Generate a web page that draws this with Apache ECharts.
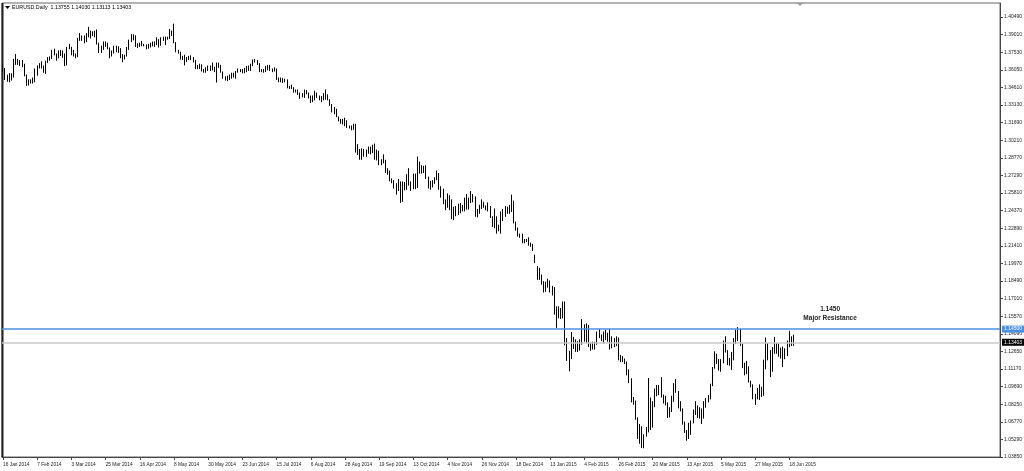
<!DOCTYPE html>
<html><head><meta charset="utf-8">
<script src="https://cdn.jsdelivr.net/npm/echarts@6/dist/echarts.min.js"></script>
<style>html,body{margin:0;padding:0;background:#fff}#c{width:1024px;height:471px}</style>
</head><body><div id="c"></div>
<script>
// Daily bars, each row [open, high, low, close]
const jan2014=[[1.3600,1.3650,1.3590,1.3620],[1.3620,1.3625,1.3525,1.3540],[1.3530,1.3568,1.3510,1.3548],[1.3548,1.3582,1.3506,1.3560],[1.3560,1.3580,1.3520,1.3562],[1.3562,1.3700,1.3545,1.3690],[1.3690,1.3740,1.3650,1.3678],[1.3678,1.3700,1.3650,1.3675],[1.3675,1.3690,1.3640,1.3668],[1.3668,1.3690,1.3630,1.3655],[1.3655,1.3660,1.3555,1.3560],[1.3560,1.3570,1.3475,1.3485]];
const feb2014=[[1.3485,1.3530,1.3478,1.3523],[1.3523,1.3530,1.3495,1.3515],[1.3515,1.3545,1.3495,1.3535],[1.3535,1.3620,1.3505,1.3590],[1.3590,1.3645,1.3560,1.3635],[1.3635,1.3665,1.3620,1.3640],[1.3640,1.3680,1.3620,1.3640],[1.3640,1.3645,1.3585,1.3595],[1.3595,1.3685,1.3575,1.3675],[1.3675,1.3715,1.3665,1.3695],[1.3695,1.3720,1.3685,1.3710],[1.3710,1.3775,1.3700,1.3770],[1.3770,1.3785,1.3730,1.3735],[1.3735,1.3745,1.3685,1.3715],[1.3715,1.3770,1.3705,1.3740],[1.3740,1.3775,1.3725,1.3735],[1.3735,1.3770,1.3710,1.3740],[1.3740,1.3745,1.3640,1.3680],[1.3680,1.3800,1.3645,1.3795],[1.3795,1.3825,1.3780,1.3805]];
const mar2014=[[1.3760,1.3800,1.3730,1.3740],[1.3740,1.3775,1.3720,1.3740],[1.3740,1.3745,1.3705,1.3730],[1.3730,1.3875,1.3715,1.3865],[1.3865,1.3915,1.3850,1.3875],[1.3875,1.3895,1.3850,1.3880],[1.3880,1.3895,1.3830,1.3865],[1.3865,1.3915,1.3840,1.3900],[1.3900,1.3967,1.3880,1.3905],[1.3905,1.3935,1.3870,1.3915],[1.3915,1.3930,1.3890,1.3925],[1.3925,1.3935,1.3880,1.3930],[1.3930,1.3945,1.3820,1.3825],[1.3825,1.3835,1.3750,1.3775],[1.3775,1.3810,1.3750,1.3790],[1.3790,1.3845,1.3775,1.3835],[1.3835,1.3845,1.3800,1.3825],[1.3825,1.3835,1.3780,1.3790],[1.3790,1.3795,1.3705,1.3735],[1.3735,1.3770,1.3720,1.3750],[1.3750,1.3810,1.3745,1.3770]];
const apr2014=[[1.3770,1.3810,1.3755,1.3795],[1.3795,1.3805,1.3750,1.3765],[1.3765,1.3790,1.3705,1.3720],[1.3720,1.3740,1.3672,1.3705],[1.3705,1.3735,1.3695,1.3730],[1.3730,1.3800,1.3720,1.3790],[1.3790,1.3860,1.3775,1.3855],[1.3855,1.3906,1.3840,1.3890],[1.3890,1.3905,1.3855,1.3885],[1.3885,1.3895,1.3800,1.3815],[1.3815,1.3830,1.3790,1.3815],[1.3815,1.3835,1.3800,1.3815],[1.3815,1.3850,1.3805,1.3815],[1.3815,1.3825,1.3805,1.3810],[1.3810,1.3820,1.3780,1.3795],[1.3795,1.3825,1.3785,1.3815],[1.3815,1.3835,1.3795,1.3820],[1.3820,1.3845,1.3805,1.3830],[1.3830,1.3845,1.3800,1.3830],[1.3830,1.3880,1.3815,1.3860],[1.3860,1.3865,1.3795,1.3815],[1.3815,1.3880,1.3810,1.3870]];
const may2014=[[1.3870,1.3885,1.3850,1.3870],[1.3870,1.3885,1.3815,1.3870],[1.3870,1.3885,1.3860,1.3875],[1.3875,1.3950,1.3865,1.3925],[1.3925,1.3935,1.3890,1.3910],[1.3910,1.3993,1.3830,1.3835],[1.3835,1.3840,1.3755,1.3760],[1.3760,1.3775,1.3745,1.3755],[1.3755,1.3760,1.3695,1.3705],[1.3705,1.3725,1.3690,1.3710],[1.3710,1.3735,1.3646,1.3710],[1.3710,1.3715,1.3675,1.3695],[1.3695,1.3725,1.3690,1.3715],[1.3715,1.3730,1.3690,1.3700],[1.3700,1.3715,1.3670,1.3680],[1.3680,1.3690,1.3615,1.3625],[1.3625,1.3650,1.3615,1.3630],[1.3630,1.3660,1.3615,1.3630],[1.3630,1.3655,1.3595,1.3598],[1.3598,1.3615,1.3585,1.3590],[1.3590,1.3630,1.3585,1.3625],[1.3625,1.3645,1.3600,1.3635]];
const jun2014=[[1.3635,1.3645,1.3600,1.3630],[1.3630,1.3670,1.3605,1.3625],[1.3625,1.3635,1.3590,1.3595],[1.3595,1.3670,1.3503,1.3660],[1.3660,1.3670,1.3625,1.3640],[1.3640,1.3650,1.3585,1.3590],[1.3590,1.3595,1.3535,1.3545],[1.3545,1.3555,1.3520,1.3525],[1.3525,1.3560,1.3515,1.3545],[1.3545,1.3570,1.3525,1.3540],[1.3540,1.3585,1.3535,1.3570],[1.3570,1.3585,1.3545,1.3565],[1.3565,1.3600,1.3535,1.3595],[1.3595,1.3620,1.3585,1.3610],[1.3610,1.3615,1.3590,1.3605],[1.3605,1.3615,1.3580,1.3600],[1.3600,1.3625,1.3580,1.3610],[1.3610,1.3640,1.3590,1.3630],[1.3630,1.3645,1.3600,1.3615],[1.3615,1.3660,1.3600,1.3645],[1.3645,1.3695,1.3640,1.3690]];
const jul2014=[[1.3690,1.3700,1.3670,1.3675],[1.3675,1.3690,1.3650,1.3655],[1.3655,1.3665,1.3590,1.3605],[1.3605,1.3615,1.3590,1.3592],[1.3592,1.3615,1.3585,1.3605],[1.3605,1.3640,1.3590,1.3615],[1.3615,1.3650,1.3605,1.3640],[1.3640,1.3650,1.3600,1.3610],[1.3610,1.3620,1.3590,1.3605],[1.3605,1.3630,1.3595,1.3610],[1.3610,1.3620,1.3525,1.3530],[1.3530,1.3545,1.3505,1.3525],[1.3525,1.3545,1.3505,1.3520],[1.3520,1.3540,1.3500,1.3525],[1.3525,1.3535,1.3505,1.3520],[1.3520,1.3530,1.3455,1.3460],[1.3460,1.3475,1.3450,1.3465],[1.3465,1.3485,1.3450,1.3460],[1.3460,1.3465,1.3420,1.3430],[1.3430,1.3445,1.3420,1.3440],[1.3440,1.3445,1.3400,1.3410],[1.3410,1.3420,1.3367,1.3395],[1.3395,1.3415,1.3380,1.3390]];
const aug2014=[[1.3390,1.3445,1.3375,1.3430],[1.3430,1.3440,1.3405,1.3410],[1.3410,1.3420,1.3370,1.3380],[1.3380,1.3395,1.3333,1.3365],[1.3365,1.3395,1.3340,1.3360],[1.3360,1.3435,1.3355,1.3410],[1.3410,1.3420,1.3375,1.3380],[1.3380,1.3395,1.3355,1.3365],[1.3365,1.3390,1.3340,1.3362],[1.3362,1.3415,1.3355,1.3405],[1.3405,1.3445,1.3360,1.3400],[1.3400,1.3405,1.3355,1.3360],[1.3360,1.3365,1.3310,1.3320],[1.3320,1.3325,1.3255,1.3260],[1.3260,1.3300,1.3240,1.3280],[1.3280,1.3285,1.3215,1.3240],[1.3205,1.3220,1.3180,1.3190],[1.3190,1.3200,1.3160,1.3165],[1.3165,1.3200,1.3155,1.3190],[1.3190,1.3210,1.3140,1.3180],[1.3180,1.3190,1.3125,1.3130]];
const sep2014=[[1.3130,1.3145,1.3120,1.3132],[1.3132,1.3145,1.3105,1.3130],[1.3130,1.3160,1.3110,1.3150],[1.3150,1.3160,1.2920,1.2945],[1.2945,1.2990,1.2900,1.2950],[1.2925,1.2950,1.2860,1.2895],[1.2895,1.2955,1.2860,1.2945],[1.2945,1.2950,1.2885,1.2920],[1.2920,1.2945,1.2885,1.2922],[1.2922,1.2970,1.2910,1.2965],[1.2965,1.2970,1.2905,1.2945],[1.2945,1.2985,1.2915,1.2960],[1.2960,1.2995,1.2860,1.2865],[1.2865,1.2945,1.2855,1.2920],[1.2920,1.2935,1.2815,1.2830],[1.2830,1.2865,1.2815,1.2850],[1.2850,1.2905,1.2830,1.2852],[1.2852,1.2860,1.2750,1.2760],[1.2760,1.2790,1.2735,1.2745],[1.2745,1.2770,1.2680,1.2685],[1.2685,1.2705,1.2665,1.2687],[1.2687,1.2690,1.2620,1.2630]];
const oct2014=[[1.2630,1.2665,1.2570,1.2620],[1.2620,1.2700,1.2600,1.2670],[1.2670,1.2680,1.2501,1.2515],[1.2515,1.2680,1.2510,1.2665],[1.2665,1.2675,1.2605,1.2635],[1.2635,1.2740,1.2610,1.2730],[1.2730,1.2790,1.2645,1.2650],[1.2650,1.2680,1.2600,1.2625],[1.2625,1.2745,1.2615,1.2735],[1.2735,1.2745,1.2615,1.2650],[1.2650,1.2887,1.2625,1.2830],[1.2830,1.2845,1.2745,1.2810],[1.2810,1.2815,1.2745,1.2760],[1.2760,1.2810,1.2750,1.2800],[1.2800,1.2815,1.2700,1.2715],[1.2715,1.2720,1.2620,1.2640],[1.2640,1.2685,1.2610,1.2650],[1.2650,1.2690,1.2630,1.2670],[1.2670,1.2715,1.2660,1.2700],[1.2700,1.2770,1.2690,1.2735],[1.2735,1.2750,1.2610,1.2630],[1.2630,1.2640,1.2545,1.2610],[1.2610,1.2620,1.2490,1.2525]];
const nov2014=[[1.2525,1.2530,1.2440,1.2480],[1.2480,1.2580,1.2460,1.2545],[1.2545,1.2565,1.2440,1.2490],[1.2490,1.2530,1.2365,1.2375],[1.2375,1.2470,1.2357,1.2450],[1.2450,1.2475,1.2390,1.2410],[1.2410,1.2495,1.2400,1.2480],[1.2480,1.2500,1.2415,1.2435],[1.2435,1.2485,1.2430,1.2475],[1.2475,1.2545,1.2430,1.2525],[1.2525,1.2575,1.2445,1.2455],[1.2455,1.2545,1.2445,1.2530],[1.2530,1.2600,1.2500,1.2545],[1.2545,1.2575,1.2505,1.2540],[1.2540,1.2555,1.2385,1.2390],[1.2390,1.2450,1.2380,1.2440],[1.2440,1.2485,1.2410,1.2470],[1.2470,1.2530,1.2450,1.2505],[1.2505,1.2510,1.2460,1.2470],[1.2470,1.2480,1.2440,1.2450]];
const dec2014=[[1.2450,1.2505,1.2430,1.2470],[1.2470,1.2475,1.2375,1.2385],[1.2385,1.2390,1.2300,1.2310],[1.2310,1.2455,1.2290,1.2375],[1.2375,1.2390,1.2245,1.2290],[1.2290,1.2320,1.2265,1.2310],[1.2310,1.2430,1.2245,1.2380],[1.2380,1.2450,1.2350,1.2440],[1.2440,1.2475,1.2385,1.2460],[1.2460,1.2470,1.2410,1.2465],[1.2465,1.2485,1.2410,1.2440],[1.2440,1.2570,1.2425,1.2500],[1.2500,1.2520,1.2330,1.2335],[1.2335,1.2345,1.2270,1.2290],[1.2290,1.2295,1.2220,1.2225],[1.2225,1.2245,1.2210,1.2230],[1.2230,1.2245,1.2165,1.2170],[1.2170,1.2200,1.2165,1.2185],[1.2185,1.2200,1.2175,1.2190],[1.2190,1.2215,1.2145,1.2150],[1.2150,1.2170,1.2135,1.2155],[1.2155,1.2160,1.2100,1.2100]];
const jan2015=[[1.2060,1.2070,1.2000,1.2005],[1.1950,1.1975,1.1860,1.1935],[1.1935,1.1960,1.1860,1.1890],[1.1890,1.1905,1.1820,1.1840],[1.1840,1.1850,1.1755,1.1790],[1.1790,1.1845,1.1760,1.1840],[1.1840,1.1870,1.1795,1.1835],[1.1835,1.1855,1.1755,1.1775],[1.1775,1.1810,1.1730,1.1790],[1.1790,1.1800,1.1570,1.1630],[1.1630,1.1640,1.1460,1.1565],[1.1565,1.1640,1.1540,1.1610],[1.1610,1.1625,1.1535,1.1555],[1.1555,1.1680,1.1540,1.1610],[1.1610,1.1680,1.1315,1.1365],[1.1365,1.1375,1.1185,1.1205],[1.1160,1.1270,1.1098,1.1245],[1.1245,1.1425,1.1200,1.1380],[1.1380,1.1385,1.1285,1.1290],[1.1290,1.1365,1.1260,1.1320],[1.1320,1.1350,1.1260,1.1290]];
const feb2015=[[1.1290,1.1365,1.1270,1.1345],[1.1345,1.1534,1.1320,1.1480],[1.1480,1.1490,1.1345,1.1345],[1.1345,1.1498,1.1335,1.1475],[1.1475,1.1485,1.1300,1.1315],[1.1310,1.1340,1.1270,1.1320],[1.1320,1.1345,1.1280,1.1322],[1.1322,1.1345,1.1280,1.1335],[1.1335,1.1430,1.1320,1.1400],[1.1400,1.1450,1.1375,1.1390],[1.1390,1.1405,1.1350,1.1395],[1.1395,1.1430,1.1330,1.1410],[1.1410,1.1445,1.1360,1.1405],[1.1405,1.1420,1.1345,1.1375],[1.1375,1.1450,1.1280,1.1380],[1.1380,1.1390,1.1290,1.1330],[1.1330,1.1375,1.1300,1.1332],[1.1332,1.1390,1.1310,1.1370],[1.1370,1.1380,1.1190,1.1195],[1.1195,1.1235,1.1175,1.1197]];
const mar2015=[[1.1190,1.1225,1.1175,1.1180],[1.1180,1.1205,1.1160,1.1175],[1.1175,1.1180,1.1065,1.1075],[1.1075,1.1115,1.1000,1.1030],[1.1030,1.1040,1.0840,1.0840],[1.0840,1.0885,1.0820,1.0850],[1.0850,1.0855,1.0695,1.0700],[1.0700,1.0715,1.0535,1.0550],[1.0550,1.0660,1.0495,1.0630],[1.0630,1.0640,1.0460,1.0495],[1.0495,1.0575,1.0458,1.0565],[1.0565,1.0635,1.0555,1.0595],[1.0595,1.1043,1.0590,1.0870],[1.0870,1.0880,1.0610,1.0650],[1.0650,1.0850,1.0630,1.0820],[1.0820,1.0955,1.0800,1.0940],[1.0940,1.0985,1.0890,1.0930],[1.0930,1.0985,1.0900,1.0965],[1.0965,1.1050,1.0880,1.0890],[1.0890,1.0905,1.0830,1.0892],[1.0892,1.0895,1.0815,1.0830],[1.0830,1.0840,1.0710,1.0730]];
const apr2015=[[1.0730,1.0800,1.0715,1.0765],[1.0765,1.0895,1.0760,1.0885],[1.0885,1.1000,1.0845,1.0970],[1.0970,1.1035,1.0920,1.0925],[1.0925,1.0935,1.0790,1.0805],[1.0805,1.0850,1.0765,1.0780],[1.0780,1.0790,1.0655,1.0660],[1.0660,1.0680,1.0585,1.0600],[1.0600,1.0610,1.0521,1.0570],[1.0570,1.0670,1.0535,1.0660],[1.0660,1.0690,1.0570,1.0680],[1.0680,1.0780,1.0665,1.0760],[1.0760,1.0850,1.0735,1.0805],[1.0805,1.0815,1.0710,1.0740],[1.0740,1.0800,1.0705,1.0735],[1.0735,1.0790,1.0660,1.0725],[1.0725,1.0850,1.0705,1.0820],[1.0820,1.0875,1.0795,1.0870],[1.0870,1.0900,1.0840,1.0885],[1.0885,1.0995,1.0865,1.0985],[1.0985,1.1135,1.0975,1.1125],[1.1125,1.1265,1.1120,1.1220]];
const may2015=[[1.1220,1.1245,1.1160,1.1195],[1.1195,1.1200,1.1105,1.1145],[1.1145,1.1200,1.1095,1.1180],[1.1180,1.1355,1.1165,1.1345],[1.1345,1.1390,1.1255,1.1265],[1.1265,1.1275,1.1150,1.1200],[1.1200,1.1210,1.1145,1.1150],[1.1150,1.1260,1.1110,1.1215],[1.1215,1.1375,1.1190,1.1345],[1.1345,1.1445,1.1325,1.1405],[1.1405,1.1467,1.1350,1.1445],[1.1445,1.1450,1.1310,1.1315],[1.1315,1.1330,1.1125,1.1150],[1.1150,1.1170,1.1065,1.1095],[1.1095,1.1185,1.1075,1.1110],[1.1110,1.1140,1.1005,1.1015],[1.1015,1.1020,1.0965,1.0975],[1.0975,1.0990,1.0865,1.0875],[1.0875,1.0910,1.0819,1.0900],[1.0900,1.0960,1.0865,1.0870],[1.0870,1.0990,1.0860,1.0955]];
const jun2015=[[1.0955,1.0970,1.0885,1.0925],[1.0925,1.1195,1.0895,1.1150],[1.1150,1.1380,1.1115,1.1280],[1.1280,1.1335,1.1190,1.1245],[1.1245,1.1275,1.1050,1.1115],[1.1115,1.1300,1.1095,1.1290],[1.1290,1.1385,1.1245,1.1285],[1.1285,1.1335,1.1245,1.1315],[1.1315,1.1330,1.1220,1.1255],[1.1255,1.1295,1.1205,1.1265],[1.1265,1.1305,1.1135,1.1280],[1.1280,1.1290,1.1200,1.1245],[1.1245,1.1355,1.1225,1.1335],[1.1335,1.1436,1.1300,1.1365],[1.1365,1.1390,1.1310,1.1350],[1.13755,1.14030,1.13113,1.13403]];

// Time-axis labels (one every 16 bars) and price-axis labels (top to bottom)
const timeLabels=['16 Jan 2014','7 Feb 2014','3 Mar 2014','25 Mar 2014','16 Apr 2014','8 May 2014','30 May 2014','23 Jun 2014','15 Jul 2014','6 Aug 2014','28 Aug 2014','19 Sep 2014','13 Oct 2014','4 Nov 2014','26 Nov 2014','18 Dec 2014','13 Jan 2015','4 Feb 2015','26 Feb 2015','20 Mar 2015','13 Apr 2015','5 May 2015','27 May 2015','18 Jun 2015'];
const priceLabels=['1.40490','1.39010','1.37530','1.36050','1.34610','1.33130','1.31690','1.30210','1.28770','1.27290','1.25810','1.24370','1.22890','1.21410','1.19970','1.18490','1.17010','1.15570','1.14090','1.12650','1.11170','1.09690','1.08250','1.06770','1.05290','1.03850'];
const resistance=1.1450;
const lastPrice=1.13403;
const titleText='EURUSD,Daily  1.13755 1.14030 1.13113 1.13403';
const noteText=['1.1450','Major Resistance'];
const notePos=[387,1.1578];

const bars=[].concat(jan2014,feb2014,mar2014,apr2014,may2014,jun2014,jul2014,aug2014,sep2014,oct2014,nov2014,dec2014,jan2015,feb2015,mar2015,apr2015,may2015,jun2015);
const LABEL_EVERY=16, TOTAL_SLOTS=467;
const cats=[]; for(let i=0;i<TOTAL_SLOTS;i++) cats.push(String(i));
const candleData=bars.map(b=>[b[0],b[3],b[2],b[1]]);

const yMin=1.0385, yStep=0.014656, yMax=1.41655;
const FONT='Liberation Sans, Arial, sans-serif';

const chart=echarts.init(document.getElementById('c'),null,{renderer:'canvas'});
chart.setOption({
  animation:false,
  backgroundColor:'#ffffff',
  grid:{left:2,right:24,top:3,bottom:14,show:true,borderColor:'#666',borderWidth:1,backgroundColor:'#fff',outerBoundsMode:'none'},
  xAxis:{type:'category',data:cats,boundaryGap:true,
    axisLine:{show:true,lineStyle:{color:'#444',width:1}},
    axisTick:{show:true,alignWithLabel:true,length:3,lineStyle:{color:'#444'},interval:(i)=>i%LABEL_EVERY===0&&i/LABEL_EVERY<timeLabels.length},
    axisLabel:{show:true,interval:(i)=>i%LABEL_EVERY===0&&i/LABEL_EVERY<timeLabels.length,
      formatter:(v,i)=>{const k=Number(v)/LABEL_EVERY;return Number.isInteger(k)&&k<timeLabels.length?timeLabels[k]:'';},
      align:'left',margin:5.5,fontSize:4.8,color:'#222',fontFamily:FONT},
    splitLine:{show:false}},
  yAxis:{type:'value',position:'right',min:yMin,max:yMax,interval:yStep,scale:true,
    axisLine:{show:true,lineStyle:{color:'#444',width:1}},
    axisTick:{show:true,length:3,lineStyle:{color:'#444'}},
    axisLabel:{show:true,showMaxLabel:false,margin:4,fontSize:5,color:'#222',fontFamily:FONT,
      formatter:(v)=>{const k=Math.round((v-yMin)/yStep);if(Math.abs(v-(yMin+k*yStep))>1e-6)return '';const idx=priceLabels.length-1-k;return idx>=0&&idx<priceLabels.length?priceLabels[idx]:'';}},
    splitLine:{show:false}},
  series:[{
    type:'candlestick',data:candleData,barWidth:1,
    itemStyle:{color:'#ffffff',color0:'#000000',borderColor:'#000000',borderColor0:'#000000',borderWidth:1},
    markLine:{silent:true,symbol:['none','none'],animation:false,precision:5,
      data:[
        {yAxis:lastPrice,lineStyle:{color:'#c8c8c8',width:1.5,type:'solid'},
          label:{show:true,position:'end',distance:2,formatter:lastPrice.toFixed(5),backgroundColor:'#000',color:'#fff',fontSize:5,padding:[1,2],fontFamily:FONT}},
        {yAxis:resistance,lineStyle:{color:'#4a90e2',width:1.5,type:'solid'},
          label:{show:true,position:'end',distance:2,formatter:resistance.toFixed(5),backgroundColor:'#4a90e2',color:'#fff',fontSize:5,padding:[1,2],fontFamily:FONT}}
      ]},
    markPoint:{silent:true,symbol:'circle',symbolSize:0,animation:false,
      data:[{coord:[notePos[0],notePos[1]],label:{show:true,position:'inside',formatter:noteText.join('\n'),fontSize:6.5,lineHeight:9,fontWeight:'bold',color:'#222',fontFamily:FONT}}]}
  }],
  graphic:[
    {type:'line',shape:{x1:2.5,y1:3,x2:2.5,y2:457},style:{stroke:'#222',lineWidth:2}},
    {type:'polygon',shape:{points:[[5,6],[10,6],[7.5,9]]},style:{fill:'#000'}},
    {type:'text',left:12,top:5,style:{text:titleText,fontSize:5.3,fill:'#000',fontFamily:FONT}},
    {type:'polygon',shape:{points:[[797,3],[803,3],[800,6]]},style:{fill:'#999'}}
  ]
});
</script></body></html>
